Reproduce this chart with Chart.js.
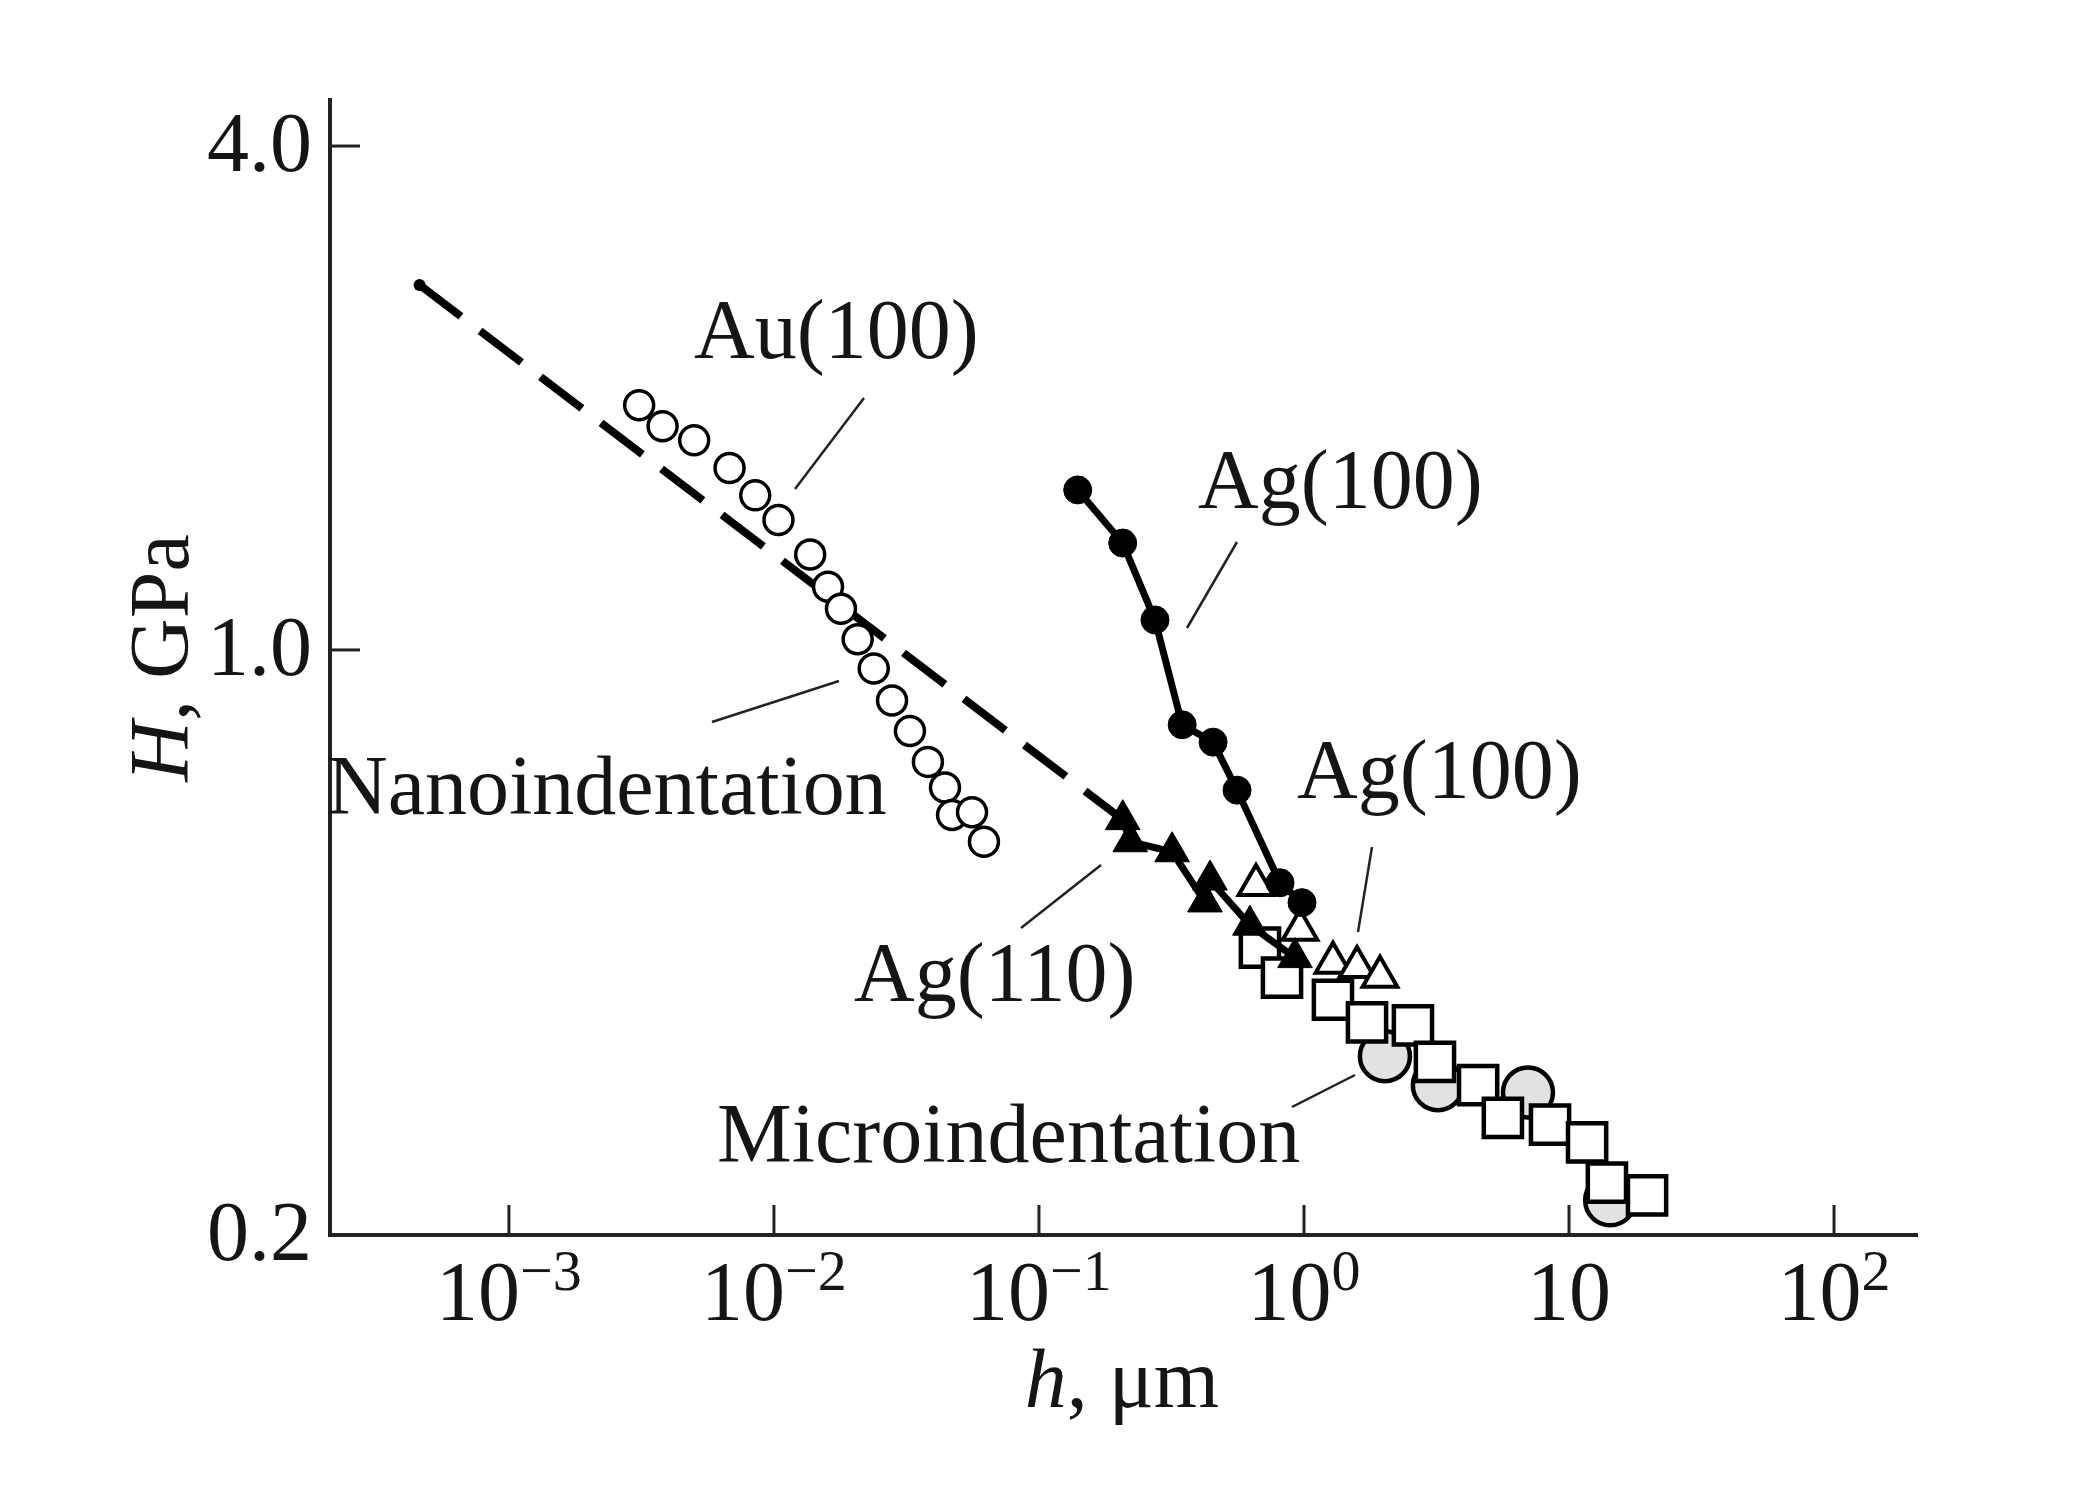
<!DOCTYPE html>
<html>
<head>
<meta charset="utf-8">
<script src="https://cdn.jsdelivr.net/npm/chart.js@4.4.1/dist/chart.umd.min.js"></script>
<style>
  html, body { margin: 0; padding: 0; background: #fff; }
  canvas { display: block; }
</style>
</head>
<body>
<canvas id="chart" width="2096" height="1500"></canvas>
<script>
// values: h in um, H in GPa
const auX = [0.0031, 0.0038, 0.0050, 0.0068, 0.0085, 0.0104, 0.0137, 0.0160, 0.0179, 0.0207, 0.0238, 0.0279, 0.0326, 0.0381, 0.0442, 0.0470, 0.0559, 0.0620];
const auY = [1.96, 1.85, 1.78, 1.65, 1.53, 1.43, 1.30, 1.19, 1.12, 1.03, 0.95, 0.87, 0.80, 0.735, 0.685, 0.635, 0.64, 0.59];

const ag100X = [0.140, 0.207, 0.274, 0.347, 0.454, 0.559, 0.812, 0.983];
const ag100Y = [1.553, 1.342, 1.086, 0.814, 0.776, 0.680, 0.527, 0.499];

const ag110X = [0.207, 0.221, 0.318, 0.423, 0.442, 0.625, 0.925];
const ag110Y = [0.627, 0.590, 0.574, 0.500, 0.531, 0.469, 0.429];

const ag100bX = [0.659, 0.966, 1.286, 1.585, 1.935];
const ag100bY = [0.524, 0.463, 0.423, 0.418, 0.407];

const microSqX = [0.682, 0.826, 1.286, 1.729, 2.577, 3.12, 4.54, 5.63, 8.48, 11.7, 13.9, 19.7];
const microSqY = [0.441, 0.406, 0.382, 0.359, 0.356, 0.322, 0.302, 0.276, 0.271, 0.258, 0.231, 0.223];

const microCiX = [2.02, 3.2, 7.0, 14.3];
const microCiY = [0.327, 0.302, 0.296, 0.220];

const fitX = [0.00046, 0.207];
const fitY = [2.73, 0.627];

const xTickVals = [1e-3, 1e-2, 1e-1, 1, 10, 100];
const xTickExp = ['\u22123', '\u22122', '\u22121', '0', '', '2'];
const yTickVals = [0.2, 1.0, 4.0];
const yTickText = ['0.2', '1.0', '4.0'];

const pts = (xs, ys) => xs.map((x, i) => ({ x: x, y: ys[i] }));

const SERIF = '"Liberation Serif", "DejaVu Serif", serif';
const INK = '#151515';

// labels and leader lines, canvas pixels
const notes = [
  { text: 'Au(100)', x: 694, y: 358, line: [864, 398, 795, 489] },
  { text: 'Ag(100)', x: 1198, y: 508, line: [1237, 542, 1187, 628] },
  { text: 'Ag(100)', x: 1297, y: 798, line: [1372, 847, 1358, 932] },
  { text: 'Nanoindentation', x: 327, y: 814, line: [712, 722, 839, 681] },
  { text: 'Ag(110)', x: 854, y: 1001, line: [1101, 865, 1021, 928] },
  { text: 'Microindentation', x: 717, y: 1162, line: [1292, 1107, 1355, 1075] }
];

const decor = {
  id: 'decor',
  afterDraw(chart) {
    const ctx = chart.ctx;
    const xs = chart.scales.x, ys = chart.scales.y;
    const a = chart.chartArea;
    ctx.save();
    ctx.strokeStyle = '#222';
    ctx.fillStyle = INK;
    ctx.lineWidth = 3;

    // inward ticks
    xTickVals.forEach(v => {
      const px = xs.getPixelForValue(v);
      ctx.beginPath(); ctx.moveTo(px, a.bottom); ctx.lineTo(px, a.bottom - 30); ctx.stroke();
    });
    yTickVals.forEach(v => {
      const py = ys.getPixelForValue(v);
      ctx.beginPath(); ctx.moveTo(a.left, py); ctx.lineTo(a.left + 30, py); ctx.stroke();
    });

    // y tick labels
    ctx.font = '84px ' + SERIF;
    ctx.textAlign = 'right';
    ctx.textBaseline = 'alphabetic';
    yTickVals.forEach((v, i) => {
      ctx.fillText(yTickText[i], a.left - 18, ys.getPixelForValue(v) + 25);
    });

    // x tick labels with exponents
    ctx.textAlign = 'left';
    xTickVals.forEach((v, i) => {
      const px = xs.getPixelForValue(v);
      ctx.font = '84px ' + SERIF;
      const wb = ctx.measureText('10').width;
      ctx.font = '58px ' + SERIF;
      const we = ctx.measureText(xTickExp[i]).width;
      const x0 = px - (wb + we) / 2;
      ctx.font = '84px ' + SERIF;
      ctx.fillText('10', x0, a.bottom + 85);
      ctx.font = '58px ' + SERIF;
      ctx.fillText(xTickExp[i], x0 + wb, a.bottom + 55);
    });

    // axis titles
    ctx.font = 'italic 84px ' + SERIF;
    const wh = ctx.measureText('h').width;
    ctx.font = '84px ' + SERIF;
    const wr = ctx.measureText(', \u03bcm').width;
    let tx = 1122 - (wh + wr) / 2;
    ctx.font = 'italic 84px ' + SERIF;
    ctx.fillText('h', tx, 1407);
    ctx.font = '84px ' + SERIF;
    ctx.fillText(', \u03bcm', tx + wh, 1407);

    ctx.save();
    ctx.translate(188, 658);
    ctx.rotate(-Math.PI / 2);
    ctx.font = 'italic 84px ' + SERIF;
    const wH = ctx.measureText('H').width;
    ctx.font = '84px ' + SERIF;
    const wG = ctx.measureText(', GPa').width;
    tx = -(wH + wG) / 2;
    ctx.font = 'italic 84px ' + SERIF;
    ctx.fillText('H', tx, 0);
    ctx.font = '84px ' + SERIF;
    ctx.fillText(', GPa', tx + wH, 0);
    ctx.restore();

    // annotations
    ctx.font = '84px ' + SERIF;
    ctx.lineWidth = 2.5;
    notes.forEach(n => {
      ctx.fillText(n.text, n.x, n.y);
      ctx.beginPath();
      ctx.moveTo(n.line[0], n.line[1]);
      ctx.lineTo(n.line[2], n.line[3]);
      ctx.stroke();
    });
    ctx.restore();
  }
};

new Chart(document.getElementById('chart'), {
  type: 'scatter',
  data: {
    datasets: [
      {
        label: 'Ag(100)',
        data: pts(ag100X, ag100Y),
        showLine: true,
        borderColor: '#000',
        borderWidth: 7,
        pointStyle: 'circle',
        pointRadius: 14,
        pointBackgroundColor: '#000',
        pointBorderColor: '#000',
        pointBorderWidth: 1
      },
      {
        label: 'Ag(110)',
        data: pts(ag110X, ag110Y),
        showLine: true,
        borderColor: '#000',
        borderWidth: 7,
        pointStyle: 'triangle',
        pointRadius: 20,
        pointBackgroundColor: '#000',
        pointBorderColor: '#000',
        pointBorderWidth: 1
      },
      {
        label: 'Ag(100) micro',
        data: pts(ag100bX, ag100bY),
        pointStyle: 'triangle',
        pointRadius: 20,
        pointBackgroundColor: '#fff',
        pointBorderColor: '#000',
        pointBorderWidth: 4
      },
      {
        label: 'Microindentation squares',
        data: pts(microSqX, microSqY),
        pointStyle: 'rect',
        pointRadius: 27,
        pointBackgroundColor: '#fff',
        pointBorderColor: '#000',
        pointBorderWidth: 4.5
      },
      {
        label: 'Microindentation circles',
        data: pts(microCiX, microCiY),
        pointStyle: 'circle',
        pointRadius: 25,
        pointBackgroundColor: '#e2e2e2',
        pointBorderColor: '#000',
        pointBorderWidth: 4.5
      },
      {
        label: 'Au(100)',
        data: pts(auX, auY),
        pointStyle: 'circle',
        pointRadius: 14.5,
        pointBackgroundColor: '#fff',
        pointBorderColor: '#000',
        pointBorderWidth: 3.5
      },
      {
        label: 'fit',
        data: pts(fitX, fitY),
        showLine: true,
        borderColor: '#000',
        borderWidth: 8,
        borderDash: [52, 24],
        pointRadius: [6, 0],
        pointBackgroundColor: '#000',
        pointBorderWidth: 0
      }
    ]
  },
  options: {
    responsive: false,
    animation: false,
    events: [],
    layout: { padding: { left: 330, top: 100, right: 179, bottom: 265 } },
    plugins: { legend: { display: false }, tooltip: { enabled: false } },
    scales: {
      x: {
        type: 'logarithmic',
        min: 2.113e-4,
        max: 205.6,
        ticks: { display: false },
        grid: { display: false, drawTicks: false },
        border: { display: true, color: '#222', width: 4 }
      },
      y: {
        type: 'logarithmic',
        min: 0.2,
        max: 4.54,
        ticks: { display: false },
        grid: { display: false, drawTicks: false },
        border: { display: true, color: '#222', width: 4 }
      }
    }
  },
  plugins: [decor]
});
</script>
</body>
</html>
